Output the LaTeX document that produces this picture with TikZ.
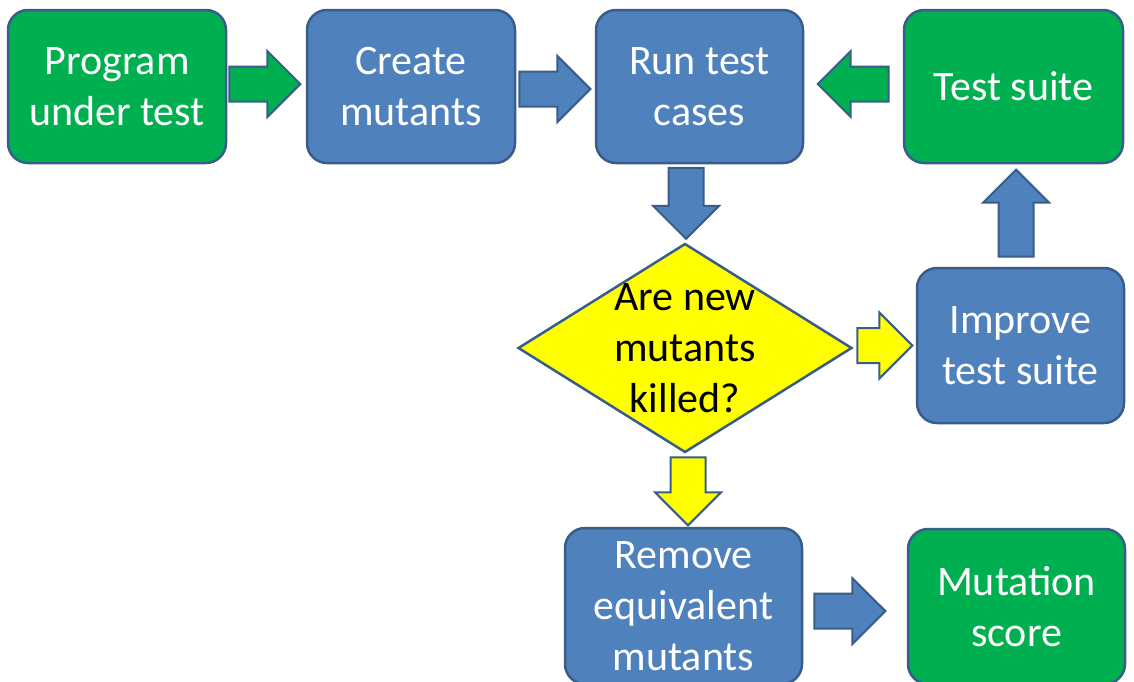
\documentclass[tikz,border=0pt]{standalone}
\usepackage{fontspec}
\setmainfont{Carlito}
\usetikzlibrary{positioning, shapes.geometric, shapes.arrows, calc}

\definecolor{boxblue}{HTML}{4F81BD}
\definecolor{boxgreen}{HTML}{00B050}
\definecolor{boxyellow}{HTML}{FFFF00}
\definecolor{edgeblue}{HTML}{385D8A}

\begin{document}
\begin{tikzpicture}[
    x=1pt, y=-1pt, % pixel-like coordinates
    % Styles
    box/.style={ % rounded process box
        rectangle,
        rounded corners=20pt,
        draw=edgeblue,
        line width=2.5pt,
        text=white,
        align=center,
        inner sep=0pt,
        minimum height=153pt,
        font=\fontsize{42}{51}\selectfont
    },
    boxb/.style={ % blue box
        box,
        fill=boxblue
    },
    boxg/.style={ % green box
        box,
        fill=boxgreen
    },
    decision/.style={ % yellow question diamond
        diamond,
        draw=edgeblue,
        line width=2.5pt,
        fill=boxyellow,
        inner sep=0pt,
        minimum width=334pt,
        minimum height=209pt
    },
    question/.style={ % text over the diamond
        align=center,
        inner sep=0pt,
        font=\fontsize{42}{51}\selectfont
    },
    barrow/.style={ % fat block arrow, placed by its tip
        single arrow,
        single arrow head extend=15.5pt,
        draw=edgeblue,
        line width=2pt,
        inner xsep=0pt,
        inner ysep=16.5pt,
        minimum width=64pt,
        minimum height=71pt,
        anchor=tip
    }
]
    \clip (0,0) rectangle (1134,681);

    % Top row
    \node[boxg, minimum width=218pt] (prog) at (117,86.5) {Program\\under test};
    \node[boxb, minimum width=208pt] (create) at (411,86.5) {Create\\mutants};
    \node[boxb, minimum width=207pt] (run) at (699.5,86.5) {Run test\\cases};
    \node[boxg, minimum width=219pt] (suite) at (1013.5,86.5) {Test suite};

    % Decision and right column
    \node[decision] (killed) at (685,348) {};
    \node[question] (killedq) at (killed.center) {Are new\\mutants\\killed?};
    \node[boxb, minimum width=207pt, minimum height=155pt] (improve) at (1020.5,345.5) {Improve\\test suite};

    % Bottom row
    \node[boxb, minimum width=237pt, minimum height=156pt] (remove) at (683.5,606) {Remove\\equivalent\\mutants};
    \node[boxg, minimum width=217pt, minimum height=155pt] (score) at (1016.5,606.5) {Mutation\\score};

    % Block arrows, tip against the next box
    \node[barrow, fill=boxgreen] (a1) at ($(create.west)+(-4,-2.5)$) {};
    \node[barrow, fill=boxblue] (a2) at ($(run.west)+(-3,2.5)$) {};
    \node[barrow, fill=boxgreen, rotate=180] (a3) at ($(run.east)+(12,-2.5)$) {};
    \node[barrow, fill=boxblue, rotate=-90] (a4) at ($(killed.north)+(1,-2)$) {};
    \node[barrow, fill=boxblue, rotate=90, minimum height=87pt] (a5) at ($(suite.south)+(2.5,4)$) {};
    \node[barrow, fill=boxyellow, minimum height=55pt] (a6) at ($(improve.west)+(-2,0)$) {};
    \node[barrow, fill=boxyellow, rotate=-90, minimum height=68pt, minimum width=62pt] (a7) at ($(remove.north)+(4.5,0)$) {};
    \node[barrow, fill=boxblue] (a8) at ($(score.west)+(-20,4.5)$) {};
\end{tikzpicture}
\end{document}
